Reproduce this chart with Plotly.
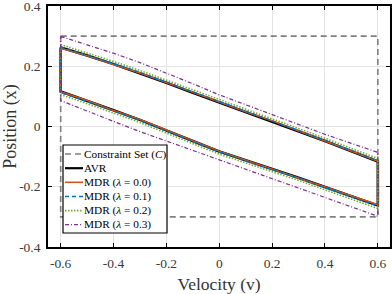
import plotly.graph_objects as go

# ---- data ----
velocity = [-0.6, -0.5, -0.4, -0.3, -0.2, -0.1, 0.0, 0.1, 0.2, 0.3, 0.4, 0.5, 0.6]

constraint_v = [-0.6, 0.6, 0.6, -0.6, -0.6]
constraint_x = [0.3, 0.3, -0.3, -0.3, 0.3]

avr_upper = [0.262, 0.236, 0.207, 0.177, 0.145, 0.112, 0.080, 0.050, 0.018, -0.015, -0.048, -0.082, -0.116]
avr_lower = [0.116, 0.085, 0.054, 0.022, -0.013, -0.048, -0.083, -0.112, -0.141, -0.170, -0.201, -0.231, -0.262]

mdr00_upper = [0.260, 0.235, 0.206, 0.178, 0.146, 0.113, 0.081, 0.049, 0.019, -0.014, -0.047, -0.081, -0.115]
mdr00_lower = [0.115, 0.086, 0.053, 0.023, -0.012, -0.047, -0.082, -0.111, -0.140, -0.171, -0.200, -0.230, -0.260]

mdr01_upper = [0.264, 0.237, 0.209, 0.179, 0.147, 0.114, 0.082, 0.052, 0.020, -0.013, -0.046, -0.080, -0.113]
mdr01_lower = [0.113, 0.083, 0.052, 0.020, -0.015, -0.050, -0.085, -0.114, -0.143, -0.172, -0.203, -0.233, -0.264]

mdr02_upper = [0.272, 0.245, 0.216, 0.186, 0.154, 0.121, 0.089, 0.059, 0.027, -0.006, -0.039, -0.073, -0.106]
mdr02_lower = [0.106, 0.076, 0.045, 0.013, -0.022, -0.057, -0.092, -0.121, -0.150, -0.179, -0.210, -0.240, -0.272]

mdr03_upper = [0.299, 0.272, 0.243, 0.212, 0.178, 0.142, 0.105, 0.072, 0.039, 0.005, -0.026, -0.056, -0.086]
mdr03_lower = [0.086, 0.052, 0.017, -0.017, -0.048, -0.079, -0.110, -0.142, -0.174, -0.205, -0.236, -0.267, -0.298]

x_ticks = [-0.6, -0.4, -0.2, 0, 0.2, 0.4, 0.6]
x_ticklabels = ["-0.6", "-0.4", "-0.2", "0", "0.2", "0.4", "0.6"]
y_ticks = [-0.4, -0.2, 0, 0.2, 0.4]
y_ticklabels = ["-0.4", "-0.2", "0", "0.2", "0.4"]

legend_labels = ["Constraint Set (<i>C</i>)", "AVR", "MDR (<i>λ</i> = 0.0)",
                 "MDR (<i>λ</i> = 0.1)", "MDR (<i>λ</i> = 0.2)", "MDR (<i>λ</i> = 0.3)"]

# ---- styles ----
SERIF = "Liberation Serif, DejaVu Serif, serif"
styles = [
    dict(color="#808080", width=1.6, dash="6px,4px"),
    dict(color="#000000", width=2.6, dash="solid"),
    dict(color="#D95319", width=1.6, dash="solid"),
    dict(color="#0072BD", width=1.6, dash="4px,3px"),
    dict(color="#77AC30", width=1.6, dash="1.5px,1.5px"),
    dict(color="#7E2F8E", width=1.2, dash="4px,2px,1px,2px"),
]


def closed(upper, lower):
    xs = velocity + velocity[::-1] + [velocity[0]]
    ys = upper + lower[::-1] + [upper[0]]
    return xs, ys


series = [
    (constraint_v, constraint_x),
    closed(avr_upper, avr_lower),
    closed(mdr00_upper, mdr00_lower),
    closed(mdr01_upper, mdr01_lower),
    closed(mdr02_upper, mdr02_lower),
    closed(mdr03_upper, mdr03_lower),
]

fig = go.Figure()
for (xs, ys), st, name in zip(series, styles, legend_labels):
    fig.add_trace(go.Scatter(x=xs, y=ys, mode="lines", name=name, line=st,
                             showlegend=False, hoverinfo="skip"))

# ---- custom legend (paper coords) ----
L, R, T, B = 48, 390, 6, 247  # plot area in pixels
W, H = R - L, B - T


def px2paper(px, py):
    return (px - L) / W, (B - py) / H


x0, y0 = px2paper(63, 145)
x1, y1 = px2paper(167, 233)
fig.add_shape(type="rect", xref="paper", yref="paper", x0=x0, y0=y1, x1=x1, y1=y0,
              line=dict(color="black", width=1.2), fillcolor="white", layer="above")
row_y = [154, 168.2, 182.3, 196.5, 210.6, 224.7]
for ry, st, name in zip(row_y, styles, legend_labels):
    a, yy = px2paper(65, ry)
    b, _ = px2paper(83, ry)
    fig.add_shape(type="line", xref="paper", yref="paper", x0=a, x1=b, y0=yy, y1=yy,
                  line=dict(color=st["color"], width=min(st["width"], 2.2), dash=st["dash"]),
                  layer="above")
    tx, _ = px2paper(83.5, ry)
    fig.add_annotation(x=tx, y=yy, xref="paper", yref="paper", text=name, showarrow=False,
                       xanchor="left", yanchor="middle", xshift=-2,
                       font=dict(family=SERIF, size=11.3, color="black"))

axis_common = dict(showgrid=True, gridcolor="#e3e3e3", gridwidth=1, zeroline=False,
                   showline=True, linecolor="black", linewidth=1.6, mirror="ticks",
                   ticks="inside", ticklen=4, tickcolor="black", tickwidth=1,
                   automargin=False, ticklabeloverflow="allow",
                   tickfont=dict(family=SERIF, size=13.5, color="#3a3a3a"))

fig.update_layout(
    width=392, height=294,
    margin=dict(l=L, r=392 - R, t=T, b=294 - B),
    paper_bgcolor="white", plot_bgcolor="white",
    showlegend=False,
    xaxis=dict(range=[-0.648, 0.646], tickvals=x_ticks, ticktext=x_ticklabels,
               ticklabelstandoff=3,
               title=dict(text="Velocity (v)", font=dict(family=SERIF, size=17.5, color="#333333"),
                          standoff=9),
               **axis_common),
    yaxis=dict(range=[-0.4, 0.4], tickvals=y_ticks, ticktext=y_ticklabels,
               ticklabelstandoff=3,
               title=dict(text="Position (x)", font=dict(family=SERIF, size=18, color="#333333"),
                          standoff=4),
               **axis_common),
)

fig.write_html("out.html", config={"displayModeBar": False},
               post_script="document.body.style.margin='0';document.body.style.overflow='hidden';")
